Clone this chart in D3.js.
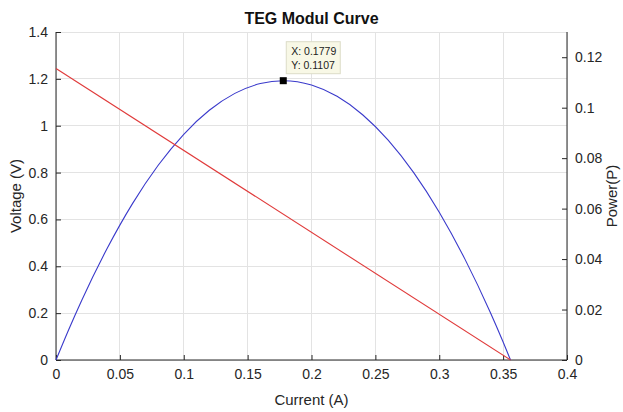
<!DOCTYPE html>
<html><head><meta charset="utf-8">
<script src="https://cdn.jsdelivr.net/npm/d3@7"></script>
<style>body{margin:0;background:#fff}svg{display:block}text{font-family:"Liberation Sans",Arial,sans-serif}</style>
</head><body><svg id="c" width="623" height="412"></svg>
<script>
const title = "TEG Modul Curve";
const xLabel = "Current (A)", yLeftLabel = "Voltage (V)", yRightLabel = "Power(P)";
const xTicks = [0,0.05,0.1,0.15,0.2,0.25,0.3,0.35,0.4];
const yLeftTicks = [0,0.2,0.4,0.6,0.8,1,1.2,1.4];
const yRightTicks = [0,0.02,0.04,0.06,0.08,0.1,0.12];
// Voltage line (red)
const vCurrent = [0, 0.3558];
const vVoltage = [1.2445, 0];
// Power curve (blue)
const pCurrent = [0,0.01,0.02,0.04,0.06,0.08,0.10,0.12,0.14,0.16,0.1779,0.20,0.22,0.24,0.26,0.28,0.30,0.32,0.34,0.35,0.3558];
const pPower   = [0,0.0121,0.02349,0.04418,0.06208,0.07717,0.08947,0.09897,0.10567,0.10958,0.1107,0.10899,0.1045,0.09721,0.08713,0.07424,0.05856,0.04008,0.0188,0.00711,0];
const tipX = 0.1779, tipY = 0.1107;

const svg = d3.select("#c");
const L=56,R=567,T=32,B=360;
const x = d3.scaleLinear().domain([0,0.4]).range([L,R]);
const yl = d3.scaleLinear().domain([0,1.4]).range([B,T]);
const yr = d3.scaleLinear().domain([0,0.13]).range([B,T]);

// grid
svg.append("g").selectAll("line").data(xTicks).join("line")
  .attr("x1",d=>x(d)).attr("x2",d=>x(d)).attr("y1",T).attr("y2",B)
  .attr("stroke","#e3e3e3").attr("stroke-width",1).attr("shape-rendering","crispEdges");
svg.append("g").selectAll("line").data(yLeftTicks).join("line")
  .attr("x1",L).attr("x2",R).attr("y1",d=>yl(d)).attr("y2",d=>yl(d))
  .attr("stroke","#e3e3e3").attr("stroke-width",1).attr("shape-rendering","crispEdges");

// axes
const fs = "14px";
const gx = svg.append("g").attr("transform",`translate(0,${B})`)
  .call(d3.axisBottom(x).tickValues(xTicks).tickSize(-5).tickPadding(9).tickFormat(d3.format("")));
const gl = svg.append("g").attr("transform",`translate(${L},0)`)
  .call(d3.axisLeft(yl).tickValues(yLeftTicks).tickSize(-5).tickPadding(8).tickFormat(d3.format("")));
const gr = svg.append("g").attr("transform",`translate(${R},0)`)
  .call(d3.axisRight(yr).tickValues(yRightTicks).tickSize(-5).tickPadding(8).tickFormat(d3.format("")));
[gx,gl,gr].forEach(g=>{
  g.selectAll("text").attr("font-size",fs).attr("fill","#262626").style("font-family","Liberation Sans, Arial, sans-serif");
  g.selectAll("line").attr("stroke","#262626");
  g.select(".domain").attr("stroke","#262626");
});
gx.select(".domain").attr("d",`M${L},0H${R}`);
gl.select(".domain").attr("d",`M0,${B}V${T}`);
gr.select(".domain").attr("d",`M0,${B}V${T}`);

// lines
const vData = vCurrent.map((c,i)=>[c,vVoltage[i]]);
const pData = pCurrent.map((c,i)=>[c,pPower[i]]);
svg.append("path").datum(pData).attr("fill","none").attr("stroke","#3a3acb").attr("stroke-width",1.1)
  .attr("d",d3.line().x(d=>x(d[0])).y(d=>yr(d[1])).curve(d3.curveMonotoneX));
svg.append("path").datum(vData).attr("fill","none").attr("stroke","#e03a3a").attr("stroke-width",1.1)
  .attr("d",d3.line().x(d=>x(d[0])).y(d=>yl(d[1])));

// datatip
const tx = x(tipX), ty = yr(tipY);
svg.append("rect").attr("x",tx-3.5).attr("y",ty-3.5).attr("width",7).attr("height",7).attr("fill","#000");
const bx = tx+3, by = ty-39;
svg.append("rect").attr("x",bx).attr("y",by).attr("width",54).attr("height",32)
  .attr("fill","#f8f8e6").attr("stroke","#dcdcc8").attr("stroke-width",1);
svg.append("text").attr("x",bx+5).attr("y",by+13).attr("font-size","10.5px").attr("fill","#222").text("X: "+tipX);
svg.append("text").attr("x",bx+5).attr("y",by+27).attr("font-size","10.5px").attr("fill","#222").text("Y: "+tipY);

// labels
svg.append("text").attr("x",(L+R)/2).attr("y",24).attr("text-anchor","middle")
  .attr("font-size","16px").attr("font-weight","bold").attr("fill","#111").text(title);
svg.append("text").attr("x",(L+R)/2).attr("y",405).attr("text-anchor","middle")
  .attr("font-size","15px").attr("fill","#262626").text(xLabel);
svg.append("text").attr("transform",`translate(21,${(T+B)/2}) rotate(-90)`).attr("text-anchor","middle")
  .attr("font-size","15px").attr("fill","#262626").text(yLeftLabel);
svg.append("text").attr("transform",`translate(617,${(T+B)/2}) rotate(-90)`).attr("text-anchor","middle")
  .attr("font-size","15px").attr("fill","#262626").text(yRightLabel);
</script></body></html>
